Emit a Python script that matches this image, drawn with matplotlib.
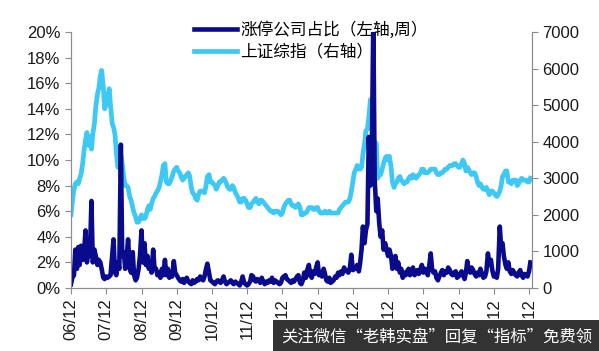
"""Limit-up share vs Shanghai Composite, weekly-ish, 2006-2019."""

import numpy as np
import pandas as pd
import matplotlib
matplotlib.use("Agg")
import matplotlib.pyplot as plt
import matplotlib.dates as mdates
from matplotlib.ticker import FuncFormatter, MultipleLocator

plt.rcParams["font.family"] = ["Liberation Sans", "Noto Sans CJK SC", "DejaVu Sans"]

# Shanghai Composite, two readings per month (right axis)
idx_2006 = [2000, 2350]
idx_2007 = [2700, 2850, 2900, 2850, 3000, 3100, 3400, 3750, 4050, 4250, 3900, 4150,
            3800, 4200, 4500, 4950, 5300, 5450, 5800, 5950, 5500, 4900, 5000, 5200]
idx_2008 = [5450, 5000, 4500, 4400, 4200, 3700, 3300, 3550, 3650, 3400, 3000, 2800,
            2800, 2750, 2500, 2400, 2200, 2050, 1950, 1800, 1800, 1900, 2000, 1900]
idx_2009 = [1900, 1950, 2150, 2250, 2150, 2300, 2450, 2500, 2600, 2650, 2750, 2900,
            3100, 3350, 3400, 2900, 2850, 2850, 2950, 3050, 3200, 3250, 3300, 3200]
idx_2010 = [3150, 3050, 2950, 3000, 3050, 3100, 3150, 3050, 2750, 2600, 2550, 2450,
            2400, 2550, 2650, 2650, 2650, 2600, 2800, 3050, 3100, 2900, 2900, 2850]
idx_2011 = [2800, 2700, 2800, 2900, 2900, 2950, 3000, 2950, 2850, 2750, 2700, 2700,
            2800, 2750, 2600, 2550, 2450, 2350, 2350, 2450, 2450, 2400, 2300, 2200]
idx_2012 = [2200, 2300, 2350, 2400, 2450, 2350, 2300, 2400, 2400, 2350, 2300, 2250,
            2200, 2150, 2100, 2100, 2050, 2100, 2100, 2100, 2050, 2000, 2050, 2200]
idx_2013 = [2300, 2350, 2400, 2400, 2300, 2250, 2250, 2200, 2250, 2300, 2200, 2000,
            2000, 2050, 2050, 2100, 2200, 2200, 2200, 2150, 2150, 2200, 2200, 2100]
idx_2014 = [2050, 2050, 2050, 2100, 2050, 2050, 2100, 2050, 2050, 2050, 2050, 2050,
            2050, 2150, 2200, 2250, 2300, 2350, 2350, 2350, 2450, 2650, 2900, 3150]
idx_2015 = [3250, 3350, 3250, 3250, 3300, 3650, 3950, 4300, 4350, 4650, 5150, 4400,
            3700, 4000, 3950, 3000, 3100, 3100, 3250, 3400, 3550, 3600, 3500, 3600]
idx_2016 = [3300, 2900, 2750, 2850, 2900, 3000, 3050, 2950, 2900, 2850, 2900, 2900,
            3000, 3050, 3000, 3100, 3050, 3000, 3050, 3100, 3150, 3250, 3250, 3150]
idx_2017 = [3150, 3150, 3200, 3250, 3250, 3250, 3250, 3150, 3100, 3100, 3150, 3150,
            3200, 3250, 3250, 3300, 3350, 3350, 3350, 3400, 3400, 3350, 3300, 3300]
idx_2018 = [3400, 3500, 3400, 3200, 3300, 3250, 3150, 3100, 3150, 3150, 3050, 2900,
            2800, 2850, 2750, 2700, 2700, 2750, 2650, 2550, 2650, 2650, 2600, 2550]
idx_2019 = [2500, 2550, 2650, 2800, 3050, 3100, 3200, 3200, 2900, 2900, 2850, 2950,
            2950, 2950, 2800, 2850, 2950, 3000, 2950, 2950, 2950, 2900, 2900, 3000]

# share of limit-up companies, % (left axis)
lim_2006 = [0.3, 0.8]
lim_2007 = [1.0, 3.0, 1.5, 3.2, 1.8, 3.3, 2.2, 2.8, 4.5, 2.0, 3.0, 2.5,
            6.8, 2.0, 3.0, 2.5, 1.8, 2.2, 2.0, 1.5, 0.8, 0.7, 0.9, 0.8]
lim_2008 = [0.9, 1.0, 2.5, 3.8, 1.2, 1.0, 2.0, 1.5, 11.2, 2.5, 2.8, 1.5,
            2.5, 3.8, 1.5, 1.2, 2.8, 1.0, 0.6, 0.8, 1.5, 2.5, 4.5, 2.0]
lim_2009 = [3.5, 1.8, 2.5, 1.5, 2.0, 1.2, 3.0, 1.5, 1.5, 1.0, 1.2, 0.8,
            1.5, 1.0, 2.2, 1.0, 1.5, 0.8, 1.2, 0.9, 2.1, 1.2, 1.0, 0.8]
lim_2010 = [0.6, 0.5, 0.7, 0.4, 0.6, 0.8, 0.5, 0.4, 0.3, 0.6, 0.4, 0.5,
            0.7, 0.6, 0.9, 0.7, 0.6, 0.9, 1.5, 1.9, 1.2, 0.6, 0.5, 0.4]
lim_2011 = [0.3, 0.5, 0.6, 0.5, 0.4, 0.6, 0.9, 0.5, 0.3, 0.4, 0.5, 0.6,
            0.4, 0.3, 0.5, 0.4, 0.3, 0.2, 0.5, 0.9, 0.4, 0.3, 0.2, 0.3]
lim_2012 = [0.5, 1.0, 0.9, 0.6, 0.5, 0.7, 0.6, 0.4, 0.8, 0.5, 0.3, 0.5,
            0.4, 0.6, 0.5, 0.8, 0.4, 0.6, 0.5, 0.4, 0.3, 0.4, 0.8, 0.9]
lim_2013 = [1.0, 0.7, 0.6, 0.5, 0.4, 0.6, 0.5, 0.7, 0.9, 1.0, 0.4, 0.3,
            0.6, 1.2, 0.8, 1.4, 1.8, 1.0, 0.8, 1.3, 1.1, 1.6, 2.0, 1.0]
lim_2014 = [1.2, 0.9, 1.5, 1.1, 0.6, 0.5, 0.8, 0.4, 0.5, 0.6, 0.9, 0.8,
            1.2, 1.0, 1.3, 1.1, 1.6, 1.4, 1.3, 1.2, 1.6, 2.6, 1.4, 1.5]
lim_2015 = [1.5, 1.8, 1.3, 2.0, 3.0, 4.8, 3.5, 4.5, 5.0, 11.8, 8.0, 10.0,
            21.0, 8.5, 6.0, 7.0, 5.0, 4.0, 4.5, 3.0, 3.5, 3.0, 2.5, 3.0]
lim_2016 = [2.5, 1.5, 2.0, 2.5, 1.5, 2.0, 1.2, 1.5, 0.8, 1.2, 1.0, 1.3,
            1.5, 1.0, 1.2, 1.6, 1.0, 1.2, 1.4, 1.1, 1.5, 1.8, 1.2, 1.5]
lim_2017 = [1.4, 1.0, 1.8, 2.7, 1.5, 1.2, 1.3, 0.8, 0.6, 0.9, 1.2, 1.4,
            1.0, 1.3, 1.2, 1.6, 1.4, 1.1, 1.0, 1.2, 1.3, 0.8, 0.9, 1.1]
lim_2018 = [1.3, 1.0, 0.7, 1.2, 2.1, 1.4, 1.2, 1.6, 1.4, 1.1, 0.9, 1.2,
            1.0, 1.5, 1.1, 0.8, 0.9, 1.3, 2.7, 1.8, 2.2, 1.4, 0.9, 1.0]
lim_2019 = [0.8, 1.5, 4.8, 3.2, 3.5, 2.5, 1.8, 1.5, 2.0, 1.3, 1.1, 1.4,
            1.2, 1.0, 0.9, 1.2, 1.4, 1.0, 0.8, 1.1, 1.0, 0.9, 1.3, 2.0]

index_vals = (idx_2006 + idx_2007 + idx_2008 + idx_2009 + idx_2010 + idx_2011 + idx_2012
              + idx_2013 + idx_2014 + idx_2015 + idx_2016 + idx_2017 + idx_2018 + idx_2019)
limit_vals = (lim_2006 + lim_2007 + lim_2008 + lim_2009 + lim_2010 + lim_2011 + lim_2012
              + lim_2013 + lim_2014 + lim_2015 + lim_2016 + lim_2017 + lim_2018 + lim_2019)

dates = pd.date_range("2006-12-01", periods=len(index_vals), freq="SMS")
tick_years = list(range(2006, 2020))
tick_labels = [f"{y % 100:02d}/12" for y in tick_years]

DARK = "#0a0a8c"
LIGHT = "#3ec8f4"
GREY = "#8c8c8c"

fig = plt.figure(figsize=(5.99, 3.51), dpi=100)
ax = fig.add_axes([0.1185, 0.1795, 0.7695, 0.7293])
ax2 = ax.twinx()

l1, = ax.plot(dates, limit_vals, color=DARK, linewidth=3.3, solid_joinstyle="round")
l2, = ax2.plot(dates, index_vals, color=LIGHT, linewidth=3.4, solid_joinstyle="round")

# dark series drawn above the index line
ax.set_zorder(ax2.get_zorder() + 1)
ax.patch.set_visible(False)

ax.set_ylim(0, 20)
ax.yaxis.set_major_locator(MultipleLocator(2))
ax.yaxis.set_major_formatter(FuncFormatter(lambda v, p: f"{v:.0f}%"))
ax2.set_ylim(0, 7000)
ax2.yaxis.set_major_locator(MultipleLocator(1000))

ax.set_xlim(pd.Timestamp("2006-12-01"), pd.Timestamp("2019-12-31"))
ax.set_xticks([pd.Timestamp(f"{y}-12-01") for y in tick_years])
ax.set_xticklabels(tick_labels, rotation=90)

for a in (ax, ax2):
    a.spines["top"].set_visible(False)
    for s in ("left", "right", "bottom"):
        a.spines[s].set_color(GREY)
        a.spines[s].set_linewidth(0.8)
    a.tick_params(colors=GREY, labelcolor="#1a1a1a", labelsize=12, length=4, width=0.8)

fig.legend([l1, l2], ["涨停公司占比（左轴,周）", "上证综指（右轴）"],
           loc="upper left", bbox_to_anchor=(0.298, 0.982), frameon=False,
           prop={"family": ["Noto Sans CJK SC", "DejaVu Sans"], "size": 12},
           handlelength=2.6, handletextpad=0.2, labelspacing=0.3)

fig.text(0.47, 0.04, "关注微信“老韩实盘”回复“指标”免费领", color="white", fontsize=11.8,
         family=["Noto Sans CJK SC", "DejaVu Sans"], va="center", ha="left",
         bbox=dict(boxstyle="square,pad=0.5", facecolor="#333333", edgecolor="none"))

fig.savefig("out.png", dpi=100)
plt.close(fig)
